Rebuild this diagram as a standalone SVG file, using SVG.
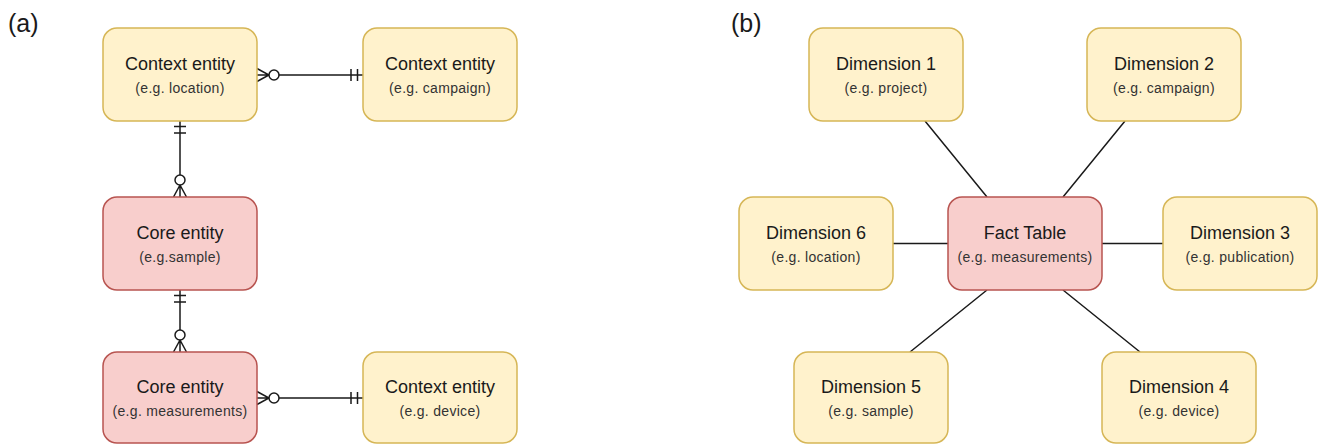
<svg xmlns="http://www.w3.org/2000/svg" width="1319" height="446" viewBox="0 0 1319 446">
<style>
.ctx{fill:#fff2cc;stroke:#d6b656;stroke-width:1.5}
.core{fill:#f8cecc;stroke:#b85450;stroke-width:1.5}
.t{font-family:"Liberation Sans",Arial,sans-serif;font-size:18px;fill:#1a1a1a;text-anchor:middle}
.s{font-family:"Liberation Sans",Arial,sans-serif;font-size:14px;letter-spacing:0.3px;fill:#333;text-anchor:middle}
.lbl{font-family:"Liberation Sans",Arial,sans-serif;font-size:25px;fill:#1a1a1a}
.ln{fill:none;stroke:#1a1a1a;stroke-width:1.5}
.o{fill:#fff;stroke:#1a1a1a;stroke-width:1.5}
</style>
<rect width="1319" height="446" fill="#fff"/>
<text class="lbl" x="8" y="32">(a)</text>
<text class="lbl" x="731" y="32">(b)</text>

<g id="connectors">
  <!-- panel a -->
  <path class="ln" d="M257,75 H363 M257,68.5 L269,75 L257,81.5 M351,69 V81 M357.5,69 V81"/>
  <circle class="o" cx="274" cy="75" r="5"/>
  <path class="ln" d="M180,121 V197 M173.5,197 L180,185 L186.5,197 M174,126.5 H186 M174,133 H186"/>
  <circle class="o" cx="180" cy="180" r="5"/>
  <path class="ln" d="M180,290 V352 M173.5,352 L180,340 L186.5,352 M174,295.5 H186 M174,302 H186"/>
  <circle class="o" cx="180" cy="335" r="5"/>
  <path class="ln" d="M257,398 H363 M257,391.5 L269,398 L257,404.5 M351,392 V404 M357.5,392 V404"/>
  <circle class="o" cx="274" cy="398" r="5"/>
  <!-- panel b -->
  <path class="ln" d="M925,121 L987,197 M1125,121 L1063,197 M893,243.5 H948 M1102,243.5 H1163 M910,352 L987,290 M1063,290 L1140,352"/>
</g>

<g id="ctx-location"><rect class="ctx" x="103" y="28" width="154" height="93" rx="14"/><text class="t" x="180" y="69.5">Context entity</text><text class="s" x="180" y="92.5">(e.g. location)</text></g>
<g id="ctx-campaign"><rect class="ctx" x="363" y="28" width="154" height="93" rx="14"/><text class="t" x="440" y="69.5">Context entity</text><text class="s" x="440" y="92.5">(e.g. campaign)</text></g>
<g id="core-sample"><rect class="core" x="103" y="197" width="154" height="93" rx="14"/><text class="t" x="180" y="239">Core entity</text><text class="s" x="180" y="262">(e.g.sample)</text></g>
<g id="core-measurements"><rect class="core" x="103" y="352" width="154" height="91" rx="14"/><text class="t" x="180" y="393">Core entity</text><text class="s" x="180" y="416">(e.g. measurements)</text></g>
<g id="ctx-device"><rect class="ctx" x="363" y="352" width="154" height="91" rx="14"/><text class="t" x="440" y="393">Context entity</text><text class="s" x="440" y="416">(e.g. device)</text></g>

<g id="dim1"><rect class="ctx" x="809" y="28" width="154" height="93" rx="14"/><text class="t" x="886" y="69.5">Dimension 1</text><text class="s" x="886" y="92.5">(e.g. project)</text></g>
<g id="dim2"><rect class="ctx" x="1087" y="28" width="154" height="93" rx="14"/><text class="t" x="1164" y="69.5">Dimension 2</text><text class="s" x="1164" y="92.5">(e.g. campaign)</text></g>
<g id="fact"><rect class="core" x="948" y="197" width="154" height="93" rx="14"/><text class="t" x="1025" y="239">Fact Table</text><text class="s" x="1025" y="262">(e.g. measurements)</text></g>
<g id="dim6"><rect class="ctx" x="739" y="197" width="154" height="93" rx="14"/><text class="t" x="816" y="239">Dimension 6</text><text class="s" x="816" y="262">(e.g. location)</text></g>
<g id="dim3"><rect class="ctx" x="1163" y="197" width="154" height="93" rx="14"/><text class="t" x="1240" y="239">Dimension 3</text><text class="s" x="1240" y="262">(e.g. publication)</text></g>
<g id="dim5"><rect class="ctx" x="794" y="352" width="154" height="91" rx="14"/><text class="t" x="871" y="393">Dimension 5</text><text class="s" x="871" y="416">(e.g. sample)</text></g>
<g id="dim4"><rect class="ctx" x="1102" y="352" width="154" height="91" rx="14"/><text class="t" x="1179" y="393">Dimension 4</text><text class="s" x="1179" y="416">(e.g. device)</text></g>
</svg>
